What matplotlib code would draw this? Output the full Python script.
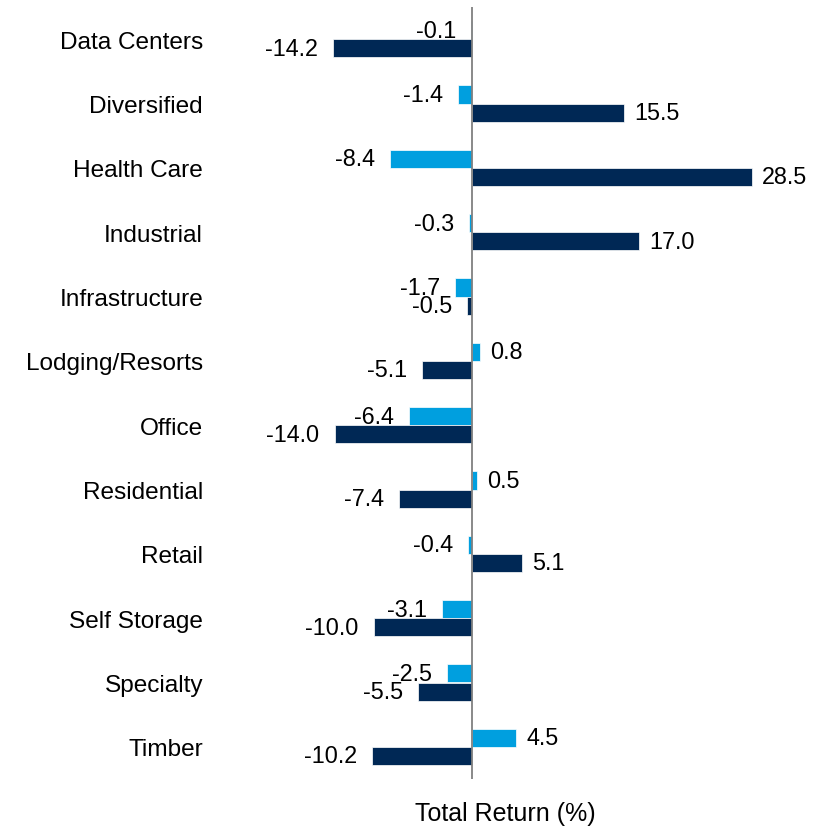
import numpy as np
import matplotlib.pyplot as plt

plt.rcParams['font.family'] = ['Liberation Sans', 'DejaVu Sans']

sectors = ['Data Centers', 'Diversified', 'Health Care', 'Industrial', 'Infrastructure',
           'Lodging/Resorts', 'Office', 'Residential', 'Retail', 'Self Storage',
           'Specialty', 'Timber']
light_vals = [-0.1, -1.4, -8.4, -0.3, -1.7, 0.8, -6.4, 0.5, -0.4, -3.1, -2.5, 4.5]
dark_vals = [-14.2, 15.5, 28.5, 17.0, -0.5, -5.1, -14.0, -7.4, 5.1, -10.0, -5.5, -10.2]

light_col = '#009FDF'
dark_col = '#002855'

fig = plt.figure(figsize=(8.3, 8.29), dpi=100)
ax = fig.add_axes([210 / 830, 1 - 780 / 829, 590 / 830, 772 / 829])

y = np.arange(len(sectors))
h = 0.28
ax.barh(y - h / 2, light_vals, height=h, color=light_col, edgecolor='white', linewidth=0.5)
ax.barh(y + h / 2, dark_vals, height=h, color=dark_col, edgecolor='white', linewidth=0.5)

# value labels just outside the bar ends
for vals, off in [(light_vals, -h / 2), (dark_vals, h / 2)]:
    for i, v in enumerate(vals):
        ax.annotate(f'{v:.1f}', (v, i + off), xytext=(10 if v >= 0 else -15, 0),
                    textcoords='offset pixels',
                    ha='left' if v >= 0 else 'right', va='center', fontsize=16.8)

ax.axvline(0, color='#808080', linewidth=1.3)
ax.set_xlim((210 - 472) / 9.82, (800 - 472) / 9.82)
ax.set_ylim(len(sectors) - 0.5, -0.5)
ax.set_yticks(y)
ax.set_yticklabels(sectors, fontsize=17.6)
ax.tick_params(axis='y', length=0, pad=5)
ax.set_xticks([])
for s in ax.spines.values():
    s.set_visible(False)
ax.set_xlabel('Total Return (%)', fontsize=18, labelpad=16)

fig.savefig('out.png', dpi=100)
